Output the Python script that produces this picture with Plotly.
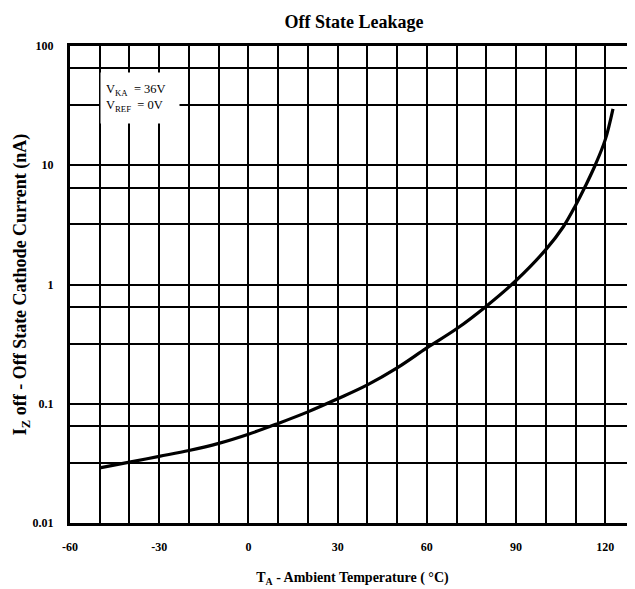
import plotly.graph_objects as go

# Data
temperature_c = [-50, -40, -30, -20, -10, 0, 10, 20, 30, 40, 50, 60, 70, 80, 90,
                 100, 105.9, 110, 113.2, 116.6, 120, 122.6]
leakage_na = [0.029, 0.0324, 0.0362, 0.0405, 0.0465, 0.0555, 0.0684, 0.0855, 0.110, 0.144,
              0.200, 0.294, 0.425, 0.658, 1.08, 1.96, 3.05, 4.6, 6.6, 10.0, 16.4, 29.7]

x_tick_vals = [-60, -30, 0, 30, 60, 90, 120]
y_tick_vals = [0.01, 0.1, 1, 10, 100]
y_tick_text = ["0.01", "0.1", "1", "10", "100"]
y_grid_vals = [0.032, 0.065, 0.32, 0.65, 3.2, 6.5, 32, 65]

FONT = "Liberation Serif"
W, H = 627, 581  # page body has an 8px margin

fig = go.Figure()
fig.add_trace(go.Scatter(
    x=temperature_c, y=leakage_na, mode="lines",
    line=dict(color="black", width=3.2, shape="spline", smoothing=1.0),
    showlegend=False, hoverinfo="skip",
))

fig.update_layout(
    width=W, height=H,
    margin=dict(l=62, r=0, t=38, b=66),
    paper_bgcolor="white", plot_bgcolor="white",
    title=dict(text="<b>Off State Leakage</b>", x=346 / W, xanchor="center",
               y=1 - 14 / H, yanchor="middle", yref="container",
               font=dict(family=FONT, size=18, color="black")),
    font=dict(family=FONT, color="black"),
)

fig.update_xaxes(
    range=[-60, 130],
    automargin=False,
    tickvals=x_tick_vals,
    ticktext=["<b>%d</b>" % v for v in x_tick_vals],
    tickfont=dict(family=FONT, size=12, color="black"),
    ticks="", ticklabelstandoff=11,
    showgrid=True, gridcolor="black", gridwidth=1.5,
    minor=dict(dtick=10, tick0=-60, showgrid=True, gridcolor="black", gridwidth=1.5),
    showline=True, linecolor="black", linewidth=3, mirror=True,
    zeroline=False,
    title=dict(text="<b>T<sub>A</sub> - Ambient Temperature ( °C)</b>",
               font=dict(family=FONT, size=14, color="black"), standoff=19),
)

fig.update_yaxes(
    type="log",
    range=[-2, 2],
    automargin=False,
    tickvals=y_tick_vals,
    ticktext=["<b>%s</b>" % t for t in y_tick_text],
    tickfont=dict(family=FONT, size=12, color="black"),
    ticks="", ticklabelstandoff=11,
    showgrid=True, gridcolor="black", gridwidth=1.5,
    minor=dict(tickvals=y_grid_vals, showgrid=True, gridcolor="black", gridwidth=1.5),
    showline=True, linecolor="black", linewidth=3, mirror=False,
    zeroline=False,
    title=dict(text="<b>I<sub>Z</sub> off - Off State Cathode Current (nA)</b>",
               font=dict(family=FONT, size=18, color="black"), standoff=2),
)

fig.add_annotation(
    text="V<sub>KA</sub>  = 36V<br>V<sub>REF</sub>  = 0V",
    xref="paper", yref="paper",
    x=30 / 565, y=1 - 26 / 477, xanchor="left", yanchor="top",
    showarrow=False, align="left",
    bgcolor="white", width=68, height=40, borderpad=5,
    font=dict(family=FONT, size=12.5, color="black"),
)

fig.write_html("out.html")
